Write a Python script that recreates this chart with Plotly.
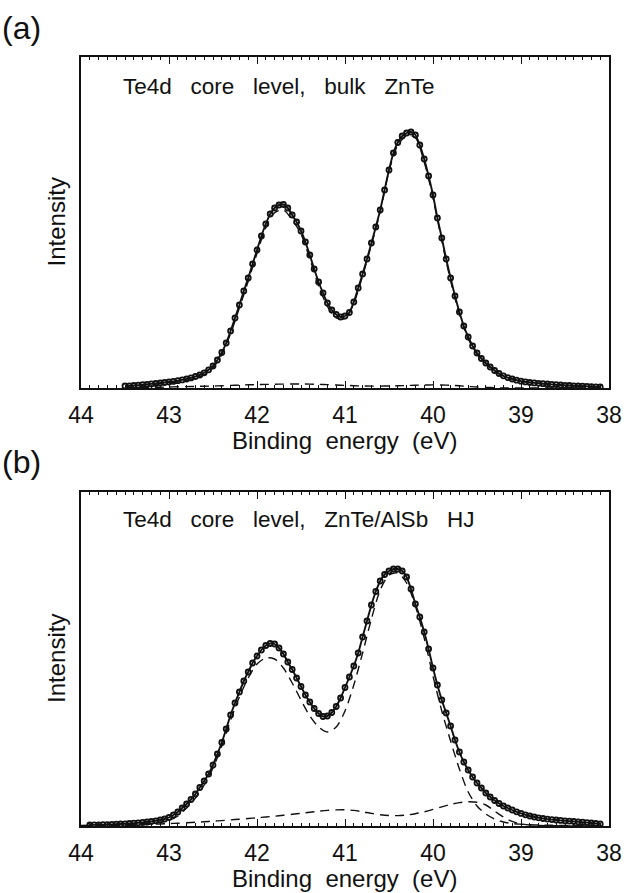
import plotly.graph_objects as go

# ---------------- measured spectra (counts, arbitrary units) ----------------
# Panel (a): bulk ZnTe, Te 4d, 0.05 eV steps from 43.50 eV down to 38.10 eV
bulk_start, step = 43.50, 0.05
bulk_counts = [
    2.0, 2.2, 2.5, 2.9, 3.3, 3.7, 4.1, 4.5, 5.0, 5.5,
    6.0, 6.6, 7.3, 8.1, 9.0, 10.1, 11.5, 13.0, 15.2, 18.2,
    22.0, 28.0, 35.5, 45.0, 57.0, 70.0, 83.0, 97.0, 110.0, 124.0,
    138.0, 152.0, 164.0, 174.0, 180.0, 183.0, 183.5, 180.0, 173.0, 166.0,
    157.0, 146.0, 133.0, 119.0, 106.0, 95.0, 85.0, 78.0, 73.5, 71.0,
    72.0, 75.5, 86.0, 100.0, 114.0, 129.0, 145.0, 161.0, 178.0, 198.0,
    218.0, 235.0, 245.5, 252.0, 255.0, 256.0, 253.0, 243.0, 229.0, 212.0,
    193.0, 170.0, 150.0, 129.0, 110.0, 92.0, 76.0, 62.0, 51.0, 42.0,
    35.0, 29.5, 25.0, 21.0, 17.5, 14.5, 12.2, 10.4, 9.0, 7.8,
    6.8, 6.1, 5.5, 5.1, 4.7, 4.3, 4.0, 3.6, 3.3, 3.0,
    2.7, 2.5, 2.2, 2.0, 1.8, 1.6, 1.4, 1.2, 1.0,
]

# Panel (b): ZnTe/AlSb heterojunction, 0.05 eV steps from 43.90 eV to 38.10 eV
hj_start = 43.90
hj_counts = [
    1.0, 1.1, 1.2, 1.3, 1.4, 1.6, 1.8, 2.0, 2.2, 2.5,
    2.8, 3.2, 3.6, 4.0, 4.5, 5.2, 6.0, 7.0, 8.5, 11.0,
    14.0, 18.0, 22.0, 26.5, 32.0, 38.5, 45.0, 52.0, 61.0, 72.0,
    83.5, 97.0, 111.0, 123.0, 134.0, 145.0, 154.0, 163.0, 170.0, 176.0,
    180.5, 182.5, 182.0, 178.0, 172.0, 164.0, 156.5, 148.0, 139.5, 131.0,
    124.0, 117.5, 112.5, 109.5, 110.0, 113.5, 119.5, 128.0, 138.5, 149.0,
    160.0, 173.0, 189.0, 205.0, 221.0, 234.5, 245.0, 251.5, 255.0, 257.0,
    257.0, 255.0, 249.0, 237.0, 222.0, 209.0, 194.0, 177.0, 158.0, 141.0,
    126.0, 113.0, 100.0, 86.0, 74.0, 64.0, 56.0, 49.0, 43.0, 38.0,
    33.0, 29.0, 25.5, 22.5, 20.0, 18.0, 16.0, 14.2, 12.6, 11.2,
    10.0, 9.0, 8.2, 7.5, 6.9, 6.4, 6.0, 5.6, 5.2, 4.9,
    4.5, 4.2, 3.8, 3.4, 3.0, 2.5, 2.0,
]

# ---------------- fitted components (0.1 eV grid) ----------------
fit_step = 0.1
bulk_fit_start = 43.5
bulk_main = [
    1.7, 2.1, 2.8, 3.4, 4.2, 5.0, 6.1, 7.6, 9.9, 13.2,
    20.0, 33.7, 54.4, 80.1, 106.8, 134.6, 160.4, 175.2, 178.0, 168.0,
    154.0, 129.1, 102.3, 81.6, 70.0, 69.4, 84.7, 112.0, 143.1, 176.1,
    217.0, 242.8, 252.5, 250.2, 226.0, 189.9, 147.0, 107.3, 73.8, 49.4,
    34.0, 24.4, 16.7, 11.9, 9.0, 6.8, 5.5, 4.8, 4.0, 3.3,
    2.7, 2.2, 1.8, 1.4, 1.0,
]
bulk_minor = [
    0.3, 0.4, 0.5, 0.6, 0.8, 1.0, 1.2, 1.4, 1.6, 1.8,
    2.0, 2.3, 2.6, 2.9, 3.2, 3.4, 3.6, 3.8, 3.9, 4.0,
    4.0, 3.9, 3.7, 3.4, 3.0, 2.6, 2.3, 2.0, 1.9, 1.9,
    2.0, 2.2, 2.5, 2.8, 3.0, 3.1, 3.0, 2.7, 2.2, 1.6,
    1.0, 0.6, 0.3, 0.1, 0.0, 0.0, 0.0, 0.0, 0.0, 0.0,
    0.0, 0.0, 0.0, 0.0, 0.0,
]

hj_fit_start = 44.0
hj_main = [
    0.5, 0.8, 1.0, 1.2, 1.4, 1.6, 1.9, 2.3, 2.9, 3.7,
    5.5, 10.0, 18.0, 28.0, 41.0, 58.0, 80.0, 106.0, 129.0, 148.0,
    162.0, 168.0, 167.0, 158.0, 143.0, 126.0, 110.0, 99.0, 94.0, 99.0,
    115.0, 141.0, 173.0, 207.0, 236.0, 251.0, 253.0, 243.0, 220.0, 188.0,
    150.0, 115.0, 85.0, 57.0, 34.0, 20.0, 12.0, 7.0, 4.0, 2.5,
    1.8, 1.3, 1.0, 0.8, 0.6, 0.5, 0.4, 0.3, 0.2, 0.1,
]
hj_interface = [
    0.0, 0.2, 0.3, 0.5, 0.7, 0.9, 1.1, 1.4, 1.7, 2.0,
    2.4, 2.8, 3.2, 3.7, 4.2, 4.8, 5.4, 6.1, 6.8, 7.5,
    8.2, 9.0, 9.8, 10.7, 11.7, 12.7, 13.8, 14.8, 15.6, 16.1,
    16.2, 15.6, 14.2, 12.6, 11.3, 10.5, 10.4, 11.0, 12.3, 14.2,
    16.6, 19.2, 21.6, 23.4, 24.3, 23.8, 21.0, 15.0, 9.0, 4.6,
    2.2, 1.0, 0.5, 0.3, 0.2, 0.1, 0.0, 0.0, 0.0, 0.0,
]

x_ticks = [44, 43, 42, 41, 40, 39, 38]
panel_labels = ["(a)", "(b)"]
panel_titles = ["Te4d   core   level,   bulk   ZnTe",
                "Te4d   core   level,   ZnTe/AlSb   HJ"]
x_title = "Binding  energy  (eV)"
y_title = "Intensity"


def energies(start, delta, n):
    return [round(start - delta * i, 3) for i in range(n)]


FONT = "Liberation Sans"
BLACK = "#111111"

fig = go.Figure()

panels = [
    ("x", "y", bulk_start, bulk_counts, bulk_fit_start, [bulk_main, bulk_minor]),
    ("x2", "y2", hj_start, hj_counts, hj_fit_start, [hj_main, hj_interface]),
]

for xa, ya, start, counts, fstart, comps in panels:
    e = energies(start, step, len(counts))
    for comp in comps:
        fig.add_trace(go.Scatter(
            x=energies(fstart, fit_step, len(comp)), y=comp, xaxis=xa, yaxis=ya,
            mode="lines", line=dict(color=BLACK, width=1.4, dash="9px,6px",
                                    shape="spline", smoothing=0.8),
            showlegend=False, hoverinfo="skip"))
    # total fit curve through the spectrum
    fig.add_trace(go.Scatter(
        x=e, y=counts, xaxis=xa, yaxis=ya, mode="lines",
        line=dict(color=BLACK, width=1.9, shape="spline", smoothing=0.6),
        showlegend=False, hoverinfo="skip"))
    # measured points
    fig.add_trace(go.Scatter(
        x=e, y=counts, xaxis=xa, yaxis=ya, mode="markers",
        marker=dict(symbol="circle-open", size=5, color=BLACK,
                    line=dict(width=1.8, color=BLACK)),
        showlegend=False))

xaxis_common = dict(
    range=[44, 38], tickvals=x_ticks, ticktext=[str(t) for t in x_ticks],
    ticks="inside", ticklen=7, tickwidth=1.2, tickcolor=BLACK,
    minor=dict(dtick=0.1, ticks="inside", ticklen=3.5, tickwidth=1, tickcolor=BLACK),
    showline=True, linecolor=BLACK, linewidth=1.6, mirror="ticks",
    showgrid=False, zeroline=False,
    tickfont=dict(family=FONT, size=23, color=BLACK), ticklabelstandoff=6,
)
yaxis_common = dict(
    showticklabels=False, ticks="", showline=True, linecolor=BLACK, linewidth=1.6,
    mirror=True, showgrid=False, zeroline=False,
)

PLOT_TOP, PLOT_BOTTOM, H = 57, 826, 893
span = PLOT_BOTTOM - PLOT_TOP


def py(pix):
    return (PLOT_BOTTOM - pix) / span


fig.update_layout(
    width=636, height=893, paper_bgcolor="white", plot_bgcolor="white",
    margin=dict(l=81, r=27, t=PLOT_TOP, b=H - PLOT_BOTTOM),
    xaxis=dict(**xaxis_common, domain=[0, 1], anchor="y"),
    yaxis=dict(**yaxis_common, domain=[py(388), 1.0], range=[0, 331], anchor="x"),
    xaxis2=dict(**xaxis_common, domain=[0, 1], anchor="y2"),
    yaxis2=dict(**yaxis_common, domain=[0, py(492)], range=[0, 334], anchor="x2"),
)

LEFT, WIDTH = 81, 528


def px(pix):
    return (pix - LEFT) / WIDTH


ann = []
for label, title, top, bottom, xl_y, lab_y, title_y in [
    (panel_labels[0], panel_titles[0], 57, 388, 440, 28, 86),
    (panel_labels[1], panel_titles[1], 492, 826, 878, 462, 519),
]:
    ann.append(dict(text=label, x=px(21), y=py(lab_y), xref="paper", yref="paper",
                    xanchor="center", yanchor="middle", showarrow=False,
                    font=dict(family=FONT, size=32, color=BLACK)))
    ann.append(dict(text=title, x=px(121), y=py(title_y), xref="paper", yref="paper",
                    xanchor="left", yanchor="middle", showarrow=False,
                    font=dict(family=FONT, size=22.5, color=BLACK)))
    ann.append(dict(text=x_title, x=px(344), y=py(xl_y), xref="paper", yref="paper",
                    xanchor="center", yanchor="middle", showarrow=False,
                    font=dict(family=FONT, size=24, color=BLACK)))
    ann.append(dict(text=y_title, x=px(56), y=py((top + bottom) / 2), xref="paper",
                    yref="paper", xanchor="center", yanchor="middle", textangle=-90,
                    showarrow=False, font=dict(family=FONT, size=24, color=BLACK)))
fig.update_layout(annotations=ann)

fig.write_html("out.html")
